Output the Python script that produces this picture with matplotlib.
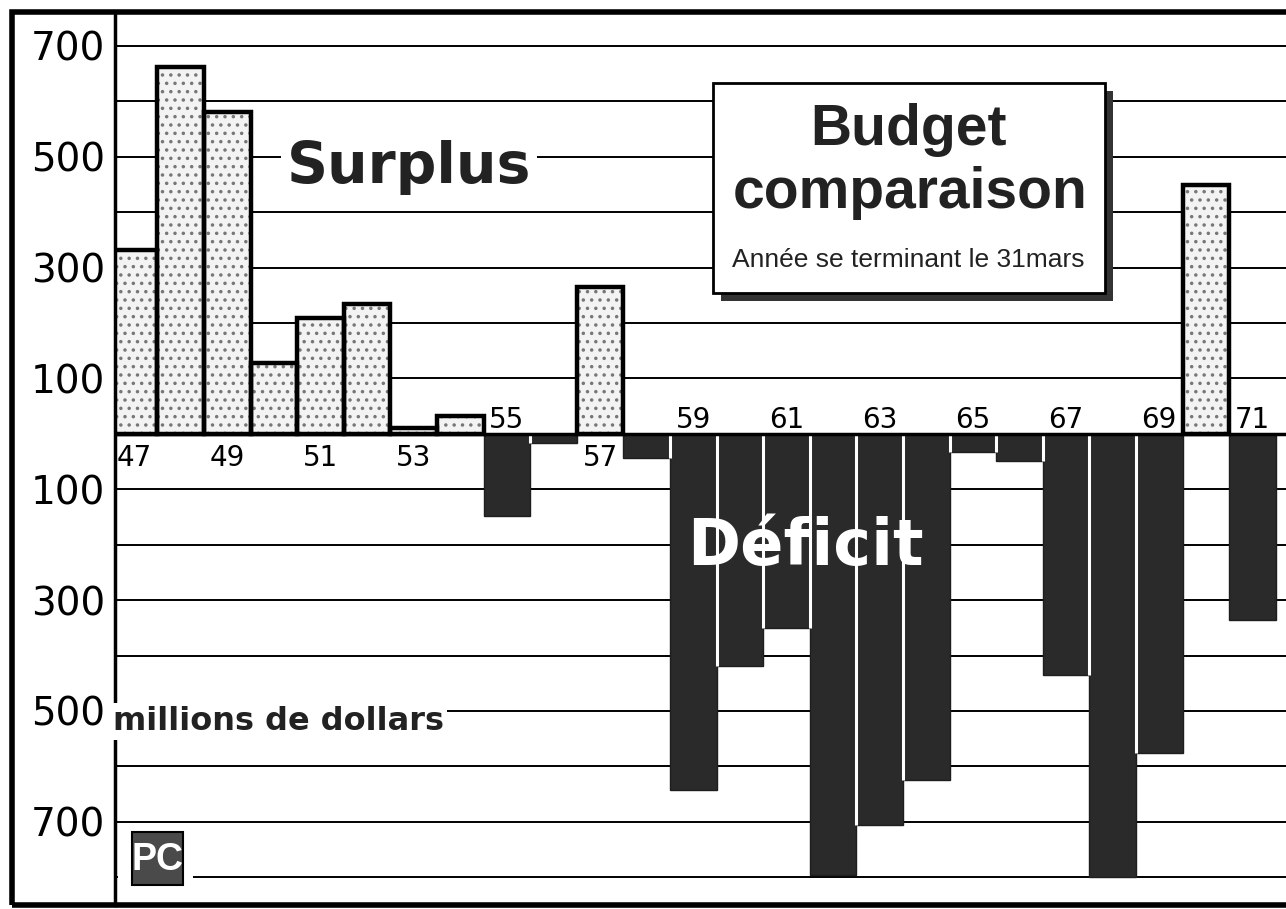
import matplotlib.pyplot as plt
from matplotlib.patches import Rectangle

# budget balance, millions de dollars (annee se terminant le 31 mars)
years = [47, 48, 49, 50, 51, 52, 53, 54, 55, 56, 57, 58, 59,
         60, 61, 62, 63, 64, 65, 66, 67, 68, 69, 70, 71]
balance = [332, 661, 581, 128, 209, 235, 10, 32, -148, -16, 264, -43, -642,
           -418, -350, -796, -705, -624, -32, -49, -435, -799, -575, 449, -336]

label_years = [47, 49, 51, 53, 55, 57, 59, 61, 63, 65, 67, 69, 71]
labels_below = [47, 49, 51, 53, 57]
ytick_vals = [700, 500, 300, 100, -100, -300, -500, -700]
grid_vals = list(range(-800, 800, 100))

W, H = 1286, 909
plt.rcParams['hatch.linewidth'] = 1.3

fig = plt.figure(figsize=(W / 100, H / 100), dpi=100)
fig.patch.set_facecolor('white')


def fx(x):
    return x / W


def fy(y):
    return 1 - y / H


ax = fig.add_axes([fx(115), fy(905), 1 - fx(115), (905 - 12) / H])
ax.set_xlim(46.592, 71.72)
ax.set_ylim(-850, 761)

# horizontal rules every 100
for v in grid_vals:
    ax.axhline(v, color='black', lw=1.4, zorder=1)

pos_x = [x for x, v in zip(years, balance) if v > 0]
pos_v = [v for v in balance if v > 0]
neg_x = [x for x, v in zip(years, balance) if v < 0]
neg_v = [v for v in balance if v < 0]

# surplus: dotted light bars with heavy outline
ax.bar(pos_x, pos_v, width=1, color='#f3f3f3', hatch='..', edgecolor='#777777',
       lw=0, zorder=2)
ax.bar(pos_x, pos_v, width=1, fill=False, edgecolor='black', lw=3.2, zorder=3)
# deficit: dark bars
ax.bar(neg_x, neg_v, width=1, color='#2a2a2a', edgecolor='#1e1e1e', lw=1, zorder=2)

# thin white lines where two deficit bars touch
for i in range(len(years) - 1):
    a, b = balance[i], balance[i + 1]
    if a < 0 and b < 0:
        ax.vlines(years[i] + 0.5, max(a, b), 0, color='white', lw=2.2, zorder=3)

ax.axhline(0, color='black', lw=2.5, zorder=4)

for yr in label_years:
    yy = -43 if yr in labels_below else 25
    ax.text(yr, yy, str(yr), ha='center', va='center', fontsize=20, zorder=6)

ax.set_yticks(ytick_vals)
ax.set_yticklabels([str(abs(v)) for v in ytick_vals])
ax.tick_params(axis='y', length=0, pad=7, labelsize=28)
ax.set_xticks([])
for s in ['top', 'right', 'bottom']:
    ax.spines[s].set_visible(False)
ax.spines['left'].set_linewidth(2.5)

ax.text(52.9, 453, 'Surplus', ha='center', va='baseline', fontsize=41,
        fontweight='bold', color='#222222', zorder=5,
        bbox=dict(fc='white', ec='none', pad=4))
ax.text(61.4, -236, 'Déficit', ha='center', va='baseline', fontsize=46,
        fontweight='bold', color='white', zorder=5)
ax.text(46.55, -534, 'millions de dollars', ha='left', va='baseline', fontsize=23,
        fontweight='bold', color='#222222', zorder=5,
        bbox=dict(fc='white', ec='none', pad=2))

# PC logo (white patch keeps the bottom rule off it, spine stays visible)
ax.add_patch(Rectangle((46.66, -845), 1.6, 133, fc='white', ec='none', zorder=5))
ax.add_patch(Rectangle((46.96, -814), 1.09, 96, fc='#4a4a4a', ec='black', lw=1.5,
                       zorder=6))
ax.text(47.5, -768, 'PC', ha='center', va='center', fontsize=27, color='white',
        fontweight='bold', family='Liberation Sans', zorder=7)

# outer frame
fig.add_artist(Rectangle((fx(12), fy(905)), fx(1300 - 12), (905 - 12) / H,
                         transform=fig.transFigure, fill=False, ec='black', lw=4))

# title box with shadow
fig.add_artist(Rectangle((fx(721), fy(301)), fx(1113 - 721), (301 - 91) / H,
                         transform=fig.transFigure, fc='#333333', ec='none', zorder=7))
fig.add_artist(Rectangle((fx(713), fy(293)), fx(1105 - 713), (293 - 83) / H,
                         transform=fig.transFigure, fc='white', ec='black', lw=2, zorder=8))
fig.text(fx(908), fy(145), 'Budget', ha='center', va='baseline', fontsize=41,
         fontweight='bold', family='Liberation Sans', color='#222222', zorder=9)
fig.text(fx(910), fy(208), 'comparaison', ha='center', va='baseline', fontsize=41,
         fontweight='bold', family='Liberation Sans', color='#222222', zorder=9)
fig.text(fx(908), fy(267), 'Année se terminant le 31mars', ha='center', va='baseline',
         fontsize=19, family='Liberation Sans', color='#222222', zorder=9)

fig.savefig('out.png', dpi=100)
